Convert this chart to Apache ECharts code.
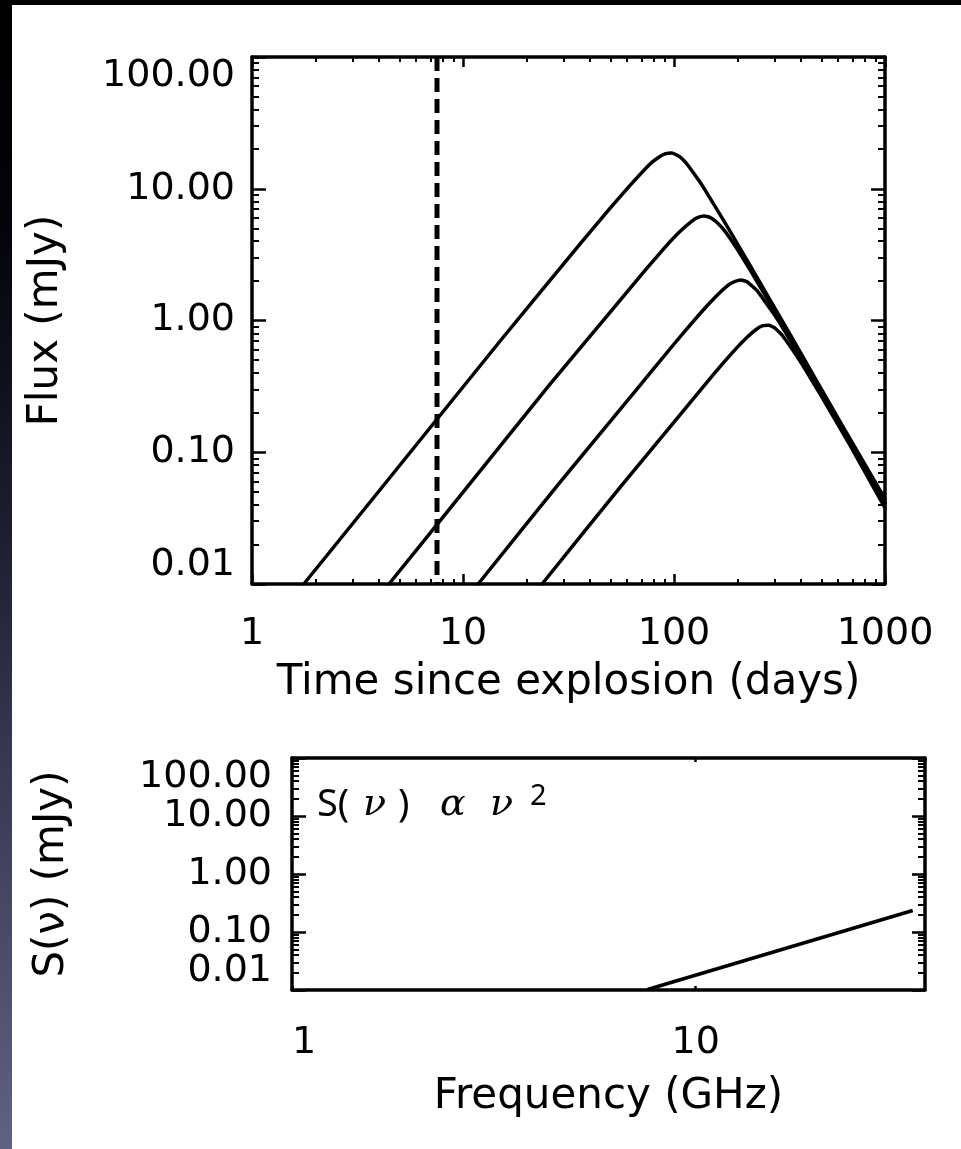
<!DOCTYPE html>
<html><head><meta charset="utf-8">
<script src="https://cdn.jsdelivr.net/npm/echarts@6.0.0/dist/echarts.min.js"></script>
<style>
html,body{margin:0;padding:0;width:961px;height:1149px;overflow:hidden;background:#000;}
#strip{position:absolute;left:0;top:0;width:12px;height:1149px;background:linear-gradient(to bottom,#000 0%,#04040a 20%,#1c1c2e 45%,#36364f 65%,#616281 100%);}
#panel{position:absolute;left:12px;top:5px;width:949px;height:1144px;background:#fff;}
#chart{position:absolute;left:0;top:0;width:961px;height:1149px;}
</style></head>
<body><div id="strip"></div><div id="panel"></div><div id="chart"></div>
<script>
// ---------------- data ----------------
const curve1Days = [1.76, 5.03, 15.0, 35.9, 49.7, 61.9, 77.0, 84.0, 90.6, 97.8, 106, 114, 124, 136, 156, 184, 229, 355, 612, 1000];
const curve1Flux = [0.0100, 0.0800, 0.699, 3.81, 7.10, 10.6, 15.4, 17.2, 18.4, 18.7, 17.6, 15.7, 13.1, 10.6, 7.41, 4.79, 2.63, 0.783, 0.171, 0.0442];

const curve2Days = [4.46, 8.68, 25.8, 55.5, 72.9, 90.6, 107, 122, 130, 139, 148, 160, 175, 199, 229, 285, 396, 612, 1000];
const curve2Flux = [0.0100, 0.0375, 0.327, 1.42, 2.40, 3.59, 4.75, 5.70, 6.06, 6.22, 6.07, 5.55, 4.73, 3.50, 2.43, 1.35, 0.549, 0.163, 0.0419];

const curve3Days = [11.8, 28.8, 69.0, 101, 133, 158, 182, 195, 208, 222, 247, 301, 355, 466, 683, 1000];
const curve3Flux = [0.0100, 0.0591, 0.322, 0.675, 1.13, 1.52, 1.87, 1.98, 2.03, 1.97, 1.69, 1.09, 0.709, 0.338, 0.117, 0.0405];

const curve4Days = [23.7, 55.5, 119, 156, 190, 222, 245, 264, 282, 301, 325, 404, 492, 683, 1000];
const curve4Flux = [0.0100, 0.0542, 0.237, 0.400, 0.576, 0.746, 0.855, 0.913, 0.921, 0.876, 0.777, 0.468, 0.277, 0.113, 0.0378];

const epochDay = 7.53;                 // dashed vertical line
const timeRange = [1, 1000];
const fluxRange = [0.01, 100];
const freqRange = [1, 37];
const spectrumFreq = [7.6, 34.5];      // GHz
const spectrumFlux = [0.0102, 0.235];  // mJy

const timeAxisName = 'Time since explosion (days)';
const fluxAxisName = 'Flux (mJy)';
const freqAxisName = 'Frequency (GHz)';
const specAxisName = 'S(ν) (mJy)';

// ---------------- chart ----------------
const zip = (xs, ys) => xs.map((x, i) => [x, ys[i]]);
const FONT = 'DejaVu Sans';
const BLACK = '#000';

function logAxis(o) {
  const a = {
    type: 'log', logBase: 10,
    gridIndex: o.grid, position: o.pos,
    min: o.range[0], max: o.range[1],
    axisLine: { show: true, onZero: false, lineStyle: { color: BLACK, width: 3.5 } },
    splitLine: { show: false },
    minorSplitLine: { show: false },
    axisTick: { show: true, inside: true, length: o.major, lineStyle: { color: BLACK, width: 2.5 } },
    minorTick: { show: o.minor > 0, splitNumber: 9, length: o.minor, lineStyle: { color: BLACK, width: 2 } },
    axisLabel: { show: false },
    nameMoveOverlap: false
  };
  if (o.labels) {
    a.axisLabel = Object.assign({
      show: true, color: BLACK, fontFamily: FONT, fontSize: 38,
      showMinLabel: true, showMaxLabel: true, hideOverlap: false
    }, o.labels);
  }
  if (o.name) {
    a.name = o.name;
    a.nameLocation = 'middle';
    a.nameGap = o.nameGap;
    a.nameTextStyle = { color: BLACK, fontFamily: FONT, fontSize: 42 };
  }
  return a;
}

const fmtFlux = v => Number(v).toFixed(2);
const fmtInt = v => String(Math.round(v));

const curveStyle = { color: BLACK, width: 3.5, join: 'round', cap: 'round' };
function curve(days, flux) {
  return {
    type: 'line', xAxisIndex: 0, yAxisIndex: 0,
    data: zip(days, flux), showSymbol: false, smooth: 0.1,
    lineStyle: curveStyle, itemStyle: { color: BLACK }, clip: true, silent: true, z: 3
  };
}

const option = {
  backgroundColor: 'transparent',
  animation: false,
  grid: [
    { left: 252, top: 57, width: 633, height: 527, containLabel: false },
    { left: 292, top: 758, width: 633, height: 232, containLabel: false }
  ],
  xAxis: [
    logAxis({ grid: 0, pos: 'bottom', range: timeRange, major: 10, minor: 5,
      labels: { margin: 31, formatter: fmtInt }, name: timeAxisName, nameGap: 78 }),
    logAxis({ grid: 0, pos: 'top', range: timeRange, major: 10, minor: 5 }),
    logAxis({ grid: 1, pos: 'bottom', range: freqRange, major: 4, minor: 0,
      labels: { margin: 34, formatter: fmtInt, alignMinLabel: 'left', showMaxLabel: false },
      name: freqAxisName, nameGap: 86 }),
    logAxis({ grid: 1, pos: 'top', range: freqRange, major: 4, minor: 0 })
  ],
  yAxis: [
    logAxis({ grid: 0, pos: 'left', range: fluxRange, major: 14, minor: 7,
      labels: { margin: 17, formatter: fmtFlux, verticalAlignMinLabel: 'bottom', verticalAlignMaxLabel: 'top' },
      name: fluxAxisName, nameGap: 185 }),
    logAxis({ grid: 0, pos: 'right', range: fluxRange, major: 14, minor: 7 }),
    logAxis({ grid: 1, pos: 'left', range: fluxRange, major: 14, minor: 7,
      labels: { margin: 20, formatter: fmtFlux, verticalAlignMinLabel: 'bottom', verticalAlignMaxLabel: 'top' },
      name: specAxisName, nameGap: 219 }),
    logAxis({ grid: 1, pos: 'right', range: fluxRange, major: 13, minor: 7 })
  ],
  series: [
    curve(curve1Days, curve1Flux),
    curve(curve2Days, curve2Flux),
    curve(curve3Days, curve3Flux),
    curve(curve4Days, curve4Flux),
    {
      type: 'line', xAxisIndex: 0, yAxisIndex: 0,
      data: [[epochDay, fluxRange[1]], [epochDay, fluxRange[0]]],
      showSymbol: false, silent: true, z: 4,
      lineStyle: { color: BLACK, width: 5, type: [14, 7] }
    },
    {
      type: 'line', xAxisIndex: 2, yAxisIndex: 2,
      data: zip(spectrumFreq, spectrumFlux),
      showSymbol: false, silent: true, clip: true, z: 3,
      lineStyle: { color: BLACK, width: 3.5 }
    }
  ],
  graphic: [{
    type: 'text', x: 317, y: 805, z: 10,
    style: {
      text: '{a|S(}{g|ν}{b|)}{g2|α}{g3|ν}{s|2}',
      verticalAlign: 'middle', align: 'left',
      rich: {
        a: { fontFamily: 'Noto Sans', fontSize: 38, width: 46, lineHeight: 46, verticalAlign: 'middle', fill: BLACK },
        g: { fontFamily: 'DejaVu Serif', fontStyle: 'italic', fontSize: 38, width: 35, lineHeight: 46, verticalAlign: 'middle', fill: BLACK },
        b: { fontFamily: 'Noto Sans', fontSize: 38, width: 42, lineHeight: 46, verticalAlign: 'middle', fill: BLACK },
        g2: { fontFamily: 'DejaVu Serif', fontStyle: 'italic', fontSize: 38, width: 50, lineHeight: 46, verticalAlign: 'middle', fill: BLACK },
        g3: { fontFamily: 'DejaVu Serif', fontStyle: 'italic', fontSize: 38, width: 40, lineHeight: 46, verticalAlign: 'middle', fill: BLACK },
        s: { fontFamily: 'Noto Sans', fontSize: 29, lineHeight: 30, verticalAlign: 'top', fill: BLACK }
      }
    }
  }]
};

const chart = echarts.init(document.getElementById('chart'), null, { renderer: 'canvas', width: 961, height: 1149 });
chart.setOption(option);
</script></body></html>
